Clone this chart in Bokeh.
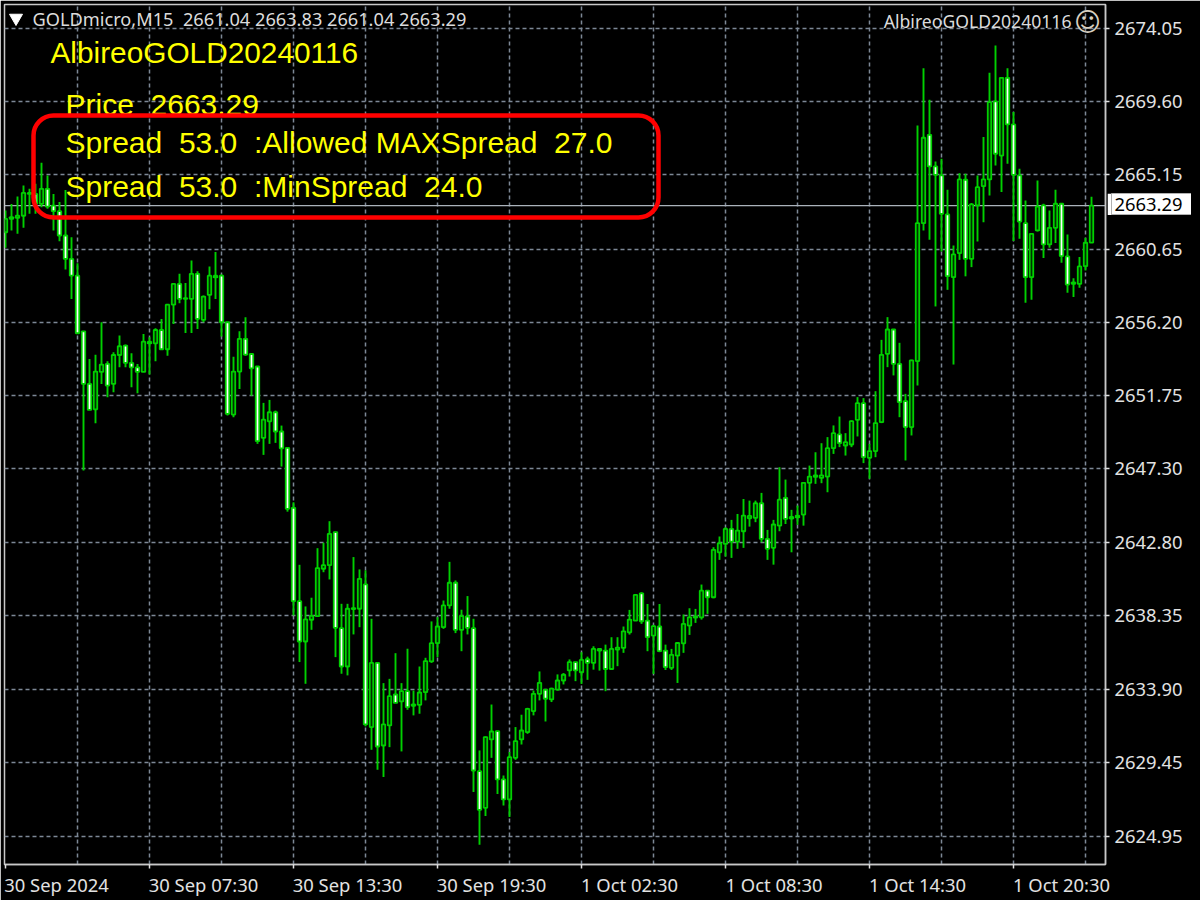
from bokeh.plotting import figure
from bokeh.layouts import column
from bokeh.core.properties import value
from bokeh.models import (ColumnDataSource, FixedTicker, LinearAxis, Label, Span, BoxAnnotation,
                          NumeralTickFormatter, Range1d, Grid)
from bokeh.embed import file_html
from bokeh.resources import INLINE

opens = [
2661.67,2662.48,2662.54,2662.67,2664.00,2664.00,2663.39,2664.31,2663.29,2662.95,
2661.47,2660.05,2659.03,2655.65,2652.45,2650.91,2653.18,2653.67,2652.45,2654.21,
2654.78,2653.73,2653.46,2653.18,2654.92,2654.92,2655.73,2654.56,2657.27,2658.53,
2657.62,2657.62,2659.14,2656.34,2657.86,2658.93,2659.03,2656.20,2650.59,2653.20,
2655.19,2654.27,2653.51,2649.17,2650.18,2650.73,2649.56,2648.56,2644.92,2639.25,
2636.80,2638.12,2638.34,2641.22,2641.44,2643.45,2637.61,2635.28,2638.77,2638.79,
2640.27,2631.60,2635.50,2630.48,2631.70,2633.58,2633.16,2633.78,2632.89,2632.95,
2633.72,2635.59,2636.70,2637.67,2638.99,2640.37,2637.51,2638.32,2637.61,2628.92,
2626.69,2630.85,2631.35,2628.42,2627.20,2629.73,2630.85,2631.29,2632.57,2633.62,
2633.86,2633.28,2633.88,2634.43,2635.04,2635.55,2634.93,2635.72,2635.50,2636.25,
2636.25,2635.13,2636.31,2636.41,2637.36,2638.07,2639.73,2638.07,2637.16,2637.71,
2636.25,2635.20,2635.94,2636.69,2637.77,2638.25,2638.27,2639.89,2639.49,2642.22,
2642.73,2643.64,2642.87,2643.50,2644.29,2644.31,2645.20,2643.03,2642.49,2643.84,
2645.53,2644.27,2644.35,2644.51,2646.44,2646.80,2646.74,2646.82,2648.55,2649.38,
2648.71,2648.77,2650.27,2651.28,2647.96,2648.37,2650.13,2654.28,2655.76,2653.67,
2651.41,2649.83,2653.84,2662.22,2667.59,2665.67,2665.12,2662.75,2658.94,2660.40,
2664.86,2660.05,2663.30,2664.47,2664.88,2669.62,2666.33,2671.05,2668.22,2665.12,
2662.22,2658.94,2661.78,2663.30,2660.93,2661.94,2663.40,2660.20,2658.53,2658.53,
2659.61,2661.04]

closes = [
2662.48,2662.58,2662.67,2664.06,2664.06,2663.39,2664.31,2663.23,2662.95,2661.47,
2660.05,2659.03,2655.53,2652.45,2650.87,2653.20,2653.63,2652.35,2654.21,2654.74,
2653.73,2653.46,2653.18,2655.02,2655.02,2655.73,2654.56,2657.27,2658.53,2657.62,
2657.66,2659.14,2656.40,2657.76,2659.03,2659.03,2656.20,2650.63,2653.20,2655.19,
2654.23,2653.40,2648.97,2650.28,2650.73,2649.56,2648.54,2644.86,2639.25,2636.80,
2638.14,2638.36,2641.26,2641.44,2643.34,2637.63,2635.28,2638.79,2638.83,2640.61,
2631.76,2635.50,2630.42,2631.76,2633.48,2633.07,2633.78,2632.81,2632.97,2633.70,
2635.61,2636.70,2637.71,2638.99,2640.37,2637.51,2638.34,2637.63,2628.96,2626.57,
2630.99,2631.33,2628.42,2627.20,2629.77,2630.75,2631.39,2632.71,2633.62,2634.29,
2633.32,2633.93,2634.43,2634.78,2635.55,2635.04,2635.68,2635.50,2636.35,2636.35,
2635.13,2636.35,2636.43,2637.42,2638.13,2639.63,2638.03,2637.06,2637.73,2636.21,
2635.24,2635.99,2636.71,2637.87,2638.27,2638.33,2639.89,2639.49,2642.37,2642.77,
2643.64,2642.87,2643.54,2644.45,2644.43,2645.20,2643.03,2642.43,2643.91,2645.42,
2644.25,2644.37,2644.45,2646.44,2646.82,2646.90,2646.90,2648.55,2649.46,2648.85,
2648.91,2650.19,2651.28,2648.00,2648.37,2650.07,2654.22,2655.76,2653.67,2651.34,
2649.83,2653.88,2662.22,2667.41,2665.67,2665.16,2662.79,2659.00,2660.32,2664.88,
2660.05,2663.36,2664.41,2664.88,2669.57,2666.44,2671.05,2668.22,2665.16,2662.32,
2658.94,2661.57,2663.23,2660.93,2661.94,2663.40,2660.22,2658.49,2658.62,2659.59,
2661.03,2663.29]

highs = [
2662.99,2663.39,2663.84,2664.51,2664.31,2664.61,2665.89,2665.12,2664.00,2663.50,
2664.24,2661.36,2659.78,2655.65,2653.97,2654.23,2656.20,2653.83,2654.38,2655.39,
2654.84,2654.32,2653.67,2655.49,2655.29,2655.83,2656.40,2657.31,2658.57,2659.14,
2658.59,2659.95,2659.30,2657.82,2659.58,2660.47,2659.10,2656.20,2654.11,2655.65,
2656.50,2654.32,2653.51,2651.30,2651.48,2650.83,2649.92,2648.60,2645.26,2641.46,
2638.93,2639.46,2642.47,2642.80,2644.11,2643.45,2639.09,2639.09,2641.93,2641.18,
2641.12,2638.18,2635.50,2634.27,2634.53,2636.09,2634.27,2636.36,2633.82,2635.28,
2635.81,2638.02,2638.28,2639.29,2641.64,2640.51,2638.73,2639.56,2638.18,2630.18,
2631.03,2632.97,2631.35,2628.66,2630.08,2631.60,2632.35,2632.77,2633.82,2634.98,
2633.93,2633.99,2634.80,2634.88,2635.71,2635.55,2636.15,2635.88,2636.51,2636.35,
2636.61,2637.06,2637.06,2637.71,2638.72,2639.63,2639.79,2639.08,2637.81,2639.08,
2636.61,2636.35,2636.71,2638.44,2638.82,2638.78,2640.26,2639.93,2642.53,2643.18,
2643.74,2644.19,2644.55,2645.46,2645.36,2645.36,2645.83,2643.58,2644.19,2647.39,
2646.64,2644.80,2645.06,2646.48,2647.49,2648.30,2648.85,2649.22,2649.93,2650.47,
2649.46,2650.23,2651.65,2651.59,2648.81,2652.01,2655.13,2656.51,2655.76,2654.95,
2651.85,2653.92,2668.16,2671.64,2669.72,2665.97,2666.13,2664.25,2660.87,2665.26,
2665.22,2663.44,2665.12,2667.45,2671.36,2673.02,2671.09,2671.64,2668.97,2665.52,
2663.60,2661.61,2664.81,2663.40,2662.99,2664.25,2663.44,2661.53,2658.88,2660.16,
2661.33,2663.83]

lows = [
2660.72,2661.77,2661.57,2661.94,2662.79,2662.79,2663.19,2663.09,2661.77,2661.12,
2659.40,2657.62,2655.49,2647.19,2650.87,2650.06,2652.45,2651.64,2651.95,2653.46,
2653.46,2652.25,2651.88,2653.18,2653.02,2653.83,2654.56,2654.17,2656.10,2657.35,
2655.55,2655.55,2655.79,2656.20,2656.99,2657.62,2655.33,2650.53,2650.43,2652.15,
2654.17,2651.74,2648.81,2648.14,2648.81,2648.87,2647.43,2644.69,2638.38,2635.55,
2634.23,2637.51,2638.34,2641.01,2640.57,2635.85,2634.84,2634.74,2637.23,2637.67,
2631.64,2630.22,2629.00,2628.56,2630.38,2633.07,2630.12,2632.65,2632.31,2632.41,
2633.22,2635.50,2635.85,2637.57,2638.79,2637.31,2636.21,2637.23,2627.65,2624.45,
2626.19,2629.73,2627.54,2626.84,2626.13,2629.61,2630.54,2631.19,2632.31,2633.22,
2631.94,2633.12,2633.82,2634.19,2634.67,2634.39,2634.22,2634.47,2635.09,2635.03,
2633.78,2635.13,2635.30,2636.11,2637.22,2638.07,2637.87,2636.21,2634.83,2636.15,
2635.07,2635.07,2634.28,2636.11,2637.20,2637.93,2638.13,2638.48,2639.43,2641.76,
2641.96,2641.88,2642.43,2642.49,2643.78,2644.05,2642.83,2641.76,2641.47,2643.50,
2643.94,2642.22,2643.89,2643.84,2645.22,2646.38,2646.42,2645.87,2648.20,2648.61,
2648.10,2648.61,2649.26,2647.64,2646.69,2648.00,2650.07,2653.47,2652.97,2650.43,
2647.80,2649.32,2652.36,2661.78,2661.21,2657.16,2660.50,2658.17,2653.63,2659.99,
2658.99,2659.55,2661.11,2662.28,2663.90,2665.73,2664.11,2665.83,2661.13,2661.27,
2657.38,2657.56,2661.72,2660.10,2660.72,2661.01,2659.81,2657.99,2657.73,2658.29,
2659.35,2661.04]

price_ticks = [2674.05, 2669.60, 2665.15, 2660.65, 2656.20, 2651.75,
               2647.30, 2642.80, 2638.35, 2633.90, 2629.45, 2624.95]
time_labels = ["30 Sep 2024", "30 Sep 07:30", "30 Sep 13:30", "30 Sep 19:30",
               "1 Oct 02:30", "1 Oct 08:30", "1 Oct 14:30", "1 Oct 20:30"]
# page pixel at which each centred time label must sit, so that it starts just left of its tick
time_label_centres = [56, 203, 347, 491, 629, 773.5, 917, 1061]
last_price = 2663.29
SP2 = "\u00a0\u00a0"
header = f"GOLDmicro,M15{SP2}2661.04 2663.83 2661.04 2663.29"
ea_name = "AlbireoGOLD20240116"
lines = [f"Price{SP2}2663.29",
         f"Spread{SP2}53.0{SP2}:Allowed MAXSpread{SP2}27.0",
         f"Spread{SP2}53.0{SP2}:MinSpread{SP2}24.0"]

WIDTH, HEIGHT = 1200, 900
FL, FR, FT, FB = 4, 1105, 4, 864            # frame edges in page pixels
PX_PER_BAR = 6.0
PX_PER_PRICE = (836 - 28) / (price_ticks[0] - price_ticks[-1])


def X(px):      # page pixel -> bar index
    return (px - 5) / PX_PER_BAR


def Y(py):      # page pixel -> price
    return price_ticks[0] - (py - 28) / PX_PER_PRICE


idx = list(range(len(opens)))
bar_ticks = [24 * k for k in range(8)]
grid_ticks = [12 * k for k in range(1, 16)]

p = figure(width=WIDTH, height=HEIGHT, output_backend="svg", toolbar_location=None,
           x_range=Range1d(X(FL), X(FR)), y_range=Range1d(Y(FB), Y(FT)),
           background_fill_color="black", border_fill_color="black",
           min_border_left=FL, min_border_right=WIDTH - FR, min_border_top=FT, min_border_bottom=HEIGHT - FB,
           x_axis_type=None, y_axis_type=None)
p.outline_line_color = "#c8c8c8"
p.outline_line_width = 1.5

AX_FONT = "Noto Sans"
AX_SIZE = "18.4px"
AX_COL = "#e2e2e2"

label_ticks = [round(X(c), 3) for c in time_label_centres]
yax = LinearAxis(ticker=FixedTicker(ticks=price_ticks), formatter=NumeralTickFormatter(format="0.00"))
xax = LinearAxis(ticker=FixedTicker(ticks=label_ticks, minor_ticks=bar_ticks),
                 major_label_overrides={t: s for t, s in zip(label_ticks, time_labels)})
for ax in (yax, xax):
    ax.axis_line_color = "#c8c8c8"
    ax.axis_line_width = 1.5
    ax.major_label_text_color = AX_COL
    ax.major_label_text_font = AX_FONT
    ax.major_label_text_font_size = AX_SIZE
yax.major_tick_line_color = "#e0e0e0"
yax.major_tick_line_width = 1.5
yax.major_tick_in = 0
yax.major_tick_out = 4
yax.minor_tick_line_color = None
yax.major_label_standoff = 5
xax.major_tick_line_color = None
xax.major_tick_in = 0
xax.major_tick_out = 0
xax.minor_tick_line_color = "#e0e0e0"
xax.minor_tick_line_width = 1.5
xax.minor_tick_in = 0
xax.minor_tick_out = 4
xax.major_label_standoff = 3
p.add_layout(yax, "right")
p.add_layout(xax, "below")

GRID = "#7d8896"
p.add_layout(Grid(dimension=0, ticker=FixedTicker(ticks=grid_ticks), grid_line_color=GRID,
                  grid_line_dash="4 3", grid_line_width=1.5))
p.add_layout(Grid(dimension=1, ticker=FixedTicker(ticks=price_ticks), grid_line_color=GRID,
                  grid_line_dash="4 3", grid_line_width=1.5))

p.add_layout(Span(location=last_price, dimension="width", line_color="#aab2ba", line_width=1.2, level="underlay"))

GREEN = "#00d000"
src = ColumnDataSource(dict(
    x=idx,
    high=highs,
    low=lows,
    top=[max(o, c) for o, c in zip(opens, closes)],
    bot=[min(o, c) for o, c in zip(opens, closes)],
    fill=["#003000" if c >= o else "#ffffff" for o, c in zip(opens, closes)],
))
p.segment("x", "high", "x", "low", source=src, line_color=GREEN, line_width=1.9)
p.vbar(x="x", top="top", bottom="bot", width=0.58, source=src, fill_color="fill", line_color=GREEN, line_width=1.8)

# MT4 menu triangle
p.scatter([X(15.5)], [Y(17.5)], marker="inverted_triangle", size=13, fill_color="white", line_color="white")


def add_text(px, py, text, color, font, size, align="left", baseline="alphabetic"):
    p.add_layout(Label(x=X(px), y=Y(py), text=text, text_color=color, text_font=font,
                       text_font_size=size, text_align=align, text_baseline=baseline))


add_text(32, 18, header, "#dcdcdc", AX_FONT, "18.2px")
add_text(1071, 20, ea_name, "#dcdcdc", AX_FONT, "17.6px", align="right")
add_text(1087, 21, "\u263a", "#d8d0c0", "DejaVu Sans", "26px", align="center")

YEL = "#ffff00"
add_text(50, 52, ea_name, YEL, "Liberation Sans", "29.8px")
add_text(65, 104, lines[0], YEL, "Liberation Sans", "30px")
add_text(65, 142, lines[1], YEL, "Liberation Sans", "30px")
add_text(65, 186, lines[2], YEL, "Liberation Sans", "30px")

p.add_layout(BoxAnnotation(left=X(33), right=X(658), top=Y(115), bottom=Y(217), fill_alpha=0,
                           line_color="#ff0000", line_alpha=1, line_width=4.5, border_radius=20))

# White price tag on the scale: lies outside the plot frame, so it gets a small figure of its own
TAG_X, TAG_Y, TAG_W, TAG_H = 1107, 193, 84, 22
tag = figure(frame_width=TAG_W, frame_height=TAG_H, output_backend="svg", toolbar_location=None,
             x_range=Range1d(0, TAG_W), y_range=Range1d(0, TAG_H), x_axis_type=None, y_axis_type=None,
             background_fill_color="white", border_fill_color="white",
             min_border=0, min_border_left=0, min_border_right=0, min_border_top=0, min_border_bottom=0,
             margin=(TAG_Y - HEIGHT, 0, 0, TAG_X))
tag.outline_line_color = "#b0b0b0"
tag.text([3], [11], text=[f"{last_price:.2f}"], text_color="black", text_font=value(AX_FONT),
         text_font_size=AX_SIZE, text_baseline="middle", text_align="left")

page = column(p, tag, spacing=0)
open("out.html", "w").write(file_html(page, INLINE))
